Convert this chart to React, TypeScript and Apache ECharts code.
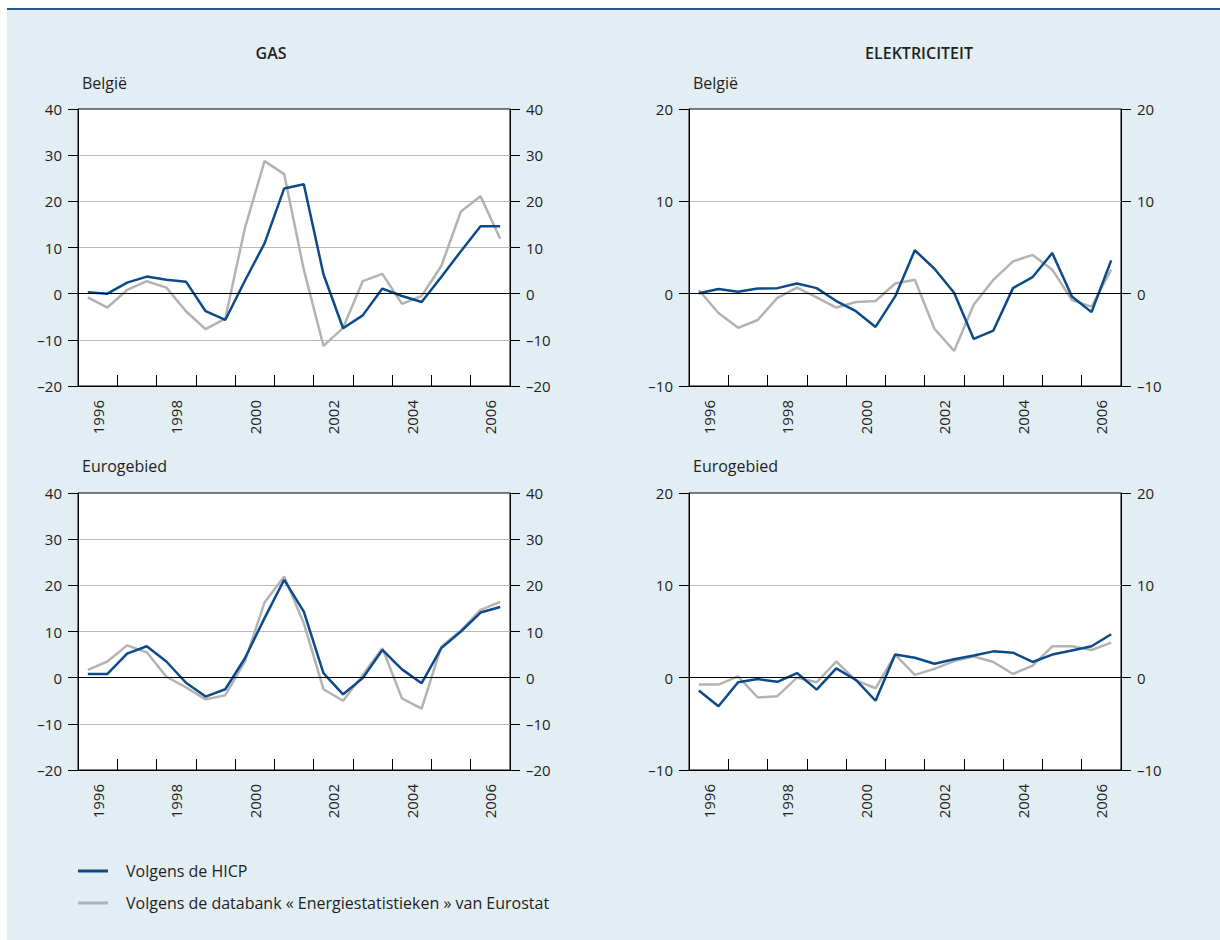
import React, { useEffect, useRef } from "react";
import * as echarts from "echarts";

const halfYears = [
  "1996 S1", "1996 S2", "1997 S1", "1997 S2", "1998 S1", "1998 S2",
  "1999 S1", "1999 S2", "2000 S1", "2000 S2", "2001 S1", "2001 S2",
  "2002 S1", "2002 S2", "2003 S1", "2003 S2", "2004 S1", "2004 S2",
  "2005 S1", "2005 S2", "2006 S1", "2006 S2",
];
const years = ["1996", "1997", "1998", "1999", "2000", "2001", "2002", "2003", "2004", "2005", "2006"];

const gasBelgiumHicp = [0.3, 0.0, 2.4, 3.7, 3.0, 2.6, -3.8, -5.7, 2.8, 10.9, 22.8, 23.7, 4.2, -7.5, -4.7, 1.1, -0.5, -1.8, 3.6, 9.2, 14.6, 14.6];
const gasBelgiumEurostat = [-0.8, -3.0, 0.8, 2.7, 1.3, -3.8, -7.7, -5.4, 14.2, 28.7, 25.9, 5.2, -11.3, -7.4, 2.7, 4.3, -2.2, -0.5, 6.0, 17.8, 21.1, 11.9];

const elecBelgiumHicp = [0.05, 0.5, 0.2, 0.55, 0.6, 1.1, 0.6, -0.8, -1.9, -3.6, -0.3, 4.7, 2.7, 0.1, -4.9, -4.0, 0.6, 1.8, 4.4, -0.3, -2.0, 3.6];
const elecBelgiumEurostat = [0.4, -2.1, -3.7, -2.85, -0.45, 0.65, -0.4, -1.5, -0.9, -0.8, 1.1, 1.5, -3.8, -6.2, -1.2, 1.5, 3.5, 4.2, 2.6, -0.7, -1.4, 2.6];

const gasEuroHicp = [0.8, 0.8, 5.2, 6.8, 3.5, -1.1, -4.1, -2.5, 4.2, 12.9, 21.2, 14.3, 1.0, -3.6, -0.1, 6.0, 1.8, -1.2, 6.4, 10.0, 14.1, 15.3];
const gasEuroEurostat = [1.7, 3.5, 7.0, 5.5, 0.2, -2.1, -4.7, -3.8, 3.5, 16.3, 21.9, 11.8, -2.5, -5.0, 0.6, 6.4, -4.5, -6.7, 6.7, 10.2, 14.7, 16.4];

const elecEuroHicp = [-1.4, -3.1, -0.5, -0.15, -0.45, 0.5, -1.3, 1.0, -0.25, -2.5, 2.5, 2.15, 1.5, 2.0, 2.4, 2.85, 2.7, 1.7, 2.5, 2.95, 3.4, 4.7];
const elecEuroEurostat = [-0.75, -0.75, 0.15, -2.15, -2.0, 0.0, -0.5, 1.75, -0.3, -1.15, 2.5, 0.3, 0.95, 1.8, 2.3, 1.7, 0.4, 1.3, 3.4, 3.4, 3.0, 3.8];

const gasTicks = { min: -20, max: 40, interval: 10 };
const elecTicks = { min: -10, max: 20, interval: 10 };

const hicpName = "Volgens de HICP";
const eurostatName = "Volgens de databank « Energiestatistieken » van Eurostat";

const FONT = "'Open Sans', 'Noto Sans', sans-serif";
const TEXT = "#231f20";
const BLUE = "#0b4a8b";
const GRAY = "#b3b3b3";

const panels = [
  { left: 78, top: 109, ticks: gasTicks, hicp: gasBelgiumHicp, euro: gasBelgiumEurostat },
  { left: 689, top: 109, ticks: elecTicks, hicp: elecBelgiumHicp, euro: elecBelgiumEurostat },
  { left: 78, top: 493, ticks: gasTicks, hicp: gasEuroHicp, euro: gasEuroEurostat },
  { left: 689, top: 493, ticks: elecTicks, hicp: elecEuroHicp, euro: elecEuroEurostat },
];

const fmt = (v: number) => (v < 0 ? "\u2013" + Math.abs(v) : String(v));

export default function App() {
  const ref = useRef<HTMLDivElement>(null);
  useEffect(() => {
    if (!ref.current) return;
    const chart = echarts.init(ref.current, undefined, { renderer: "svg" });
    const grid: any[] = [];
    const xAxis: any[] = [];
    const yAxis: any[] = [];
    const series: any[] = [];
    panels.forEach((p, i) => {
      grid.push({
        left: p.left, top: p.top, width: 432, height: 277,
        show: true, backgroundColor: "#ffffff", borderColor: "#000", borderWidth: 1,
        containLabel: false,
      });
      xAxis.push({
        type: "category", gridIndex: i, data: halfYears, boundaryGap: true, show: false,
        axisLine: { onZero: false },
      });
      xAxis.push({
        type: "category", gridIndex: i, data: years, boundaryGap: true, position: "bottom",
        axisLine: { show: true, onZero: false, lineStyle: { color: "#000", width: 1 } },
        axisTick: { show: true, inside: true, length: 11, interval: 0, lineStyle: { color: "#000", width: 1 } },
        axisLabel: { interval: 1, rotate: 90, margin: 14, fontSize: 15, color: TEXT, fontFamily: FONT },
        splitLine: { show: false },
      });
      const yBase = {
        type: "value", gridIndex: i, min: p.ticks.min, max: p.ticks.max, interval: p.ticks.interval,
        axisLine: { show: true, onZero: false, lineStyle: { color: "#000", width: 1 } },
        axisTick: { show: true, inside: false, length: 10, lineStyle: { color: "#000", width: 1 } },
        axisLabel: { margin: 16, fontSize: 15, color: TEXT, fontFamily: FONT, formatter: fmt },
      };
      yAxis.push({
        ...yBase, position: "left",
        splitLine: { show: true, showMinLine: false, showMaxLine: false, lineStyle: { color: "#b9b9b9", width: 1 } },
      });
      yAxis.push({ ...yBase, position: "right", splitLine: { show: false } });
      series.push({
        name: eurostatName, type: "line", xAxisIndex: 2 * i, yAxisIndex: 2 * i, data: p.euro,
        showSymbol: false, symbol: "none", z: 3,
        lineStyle: { color: GRAY, width: 2.5 }, itemStyle: { color: GRAY },
        markLine: {
          silent: true, symbol: "none", label: { show: false },
          lineStyle: { color: "#000", width: 1, type: "solid" },
          data: [{ yAxis: 0 }],
        },
      });
      series.push({
        name: hicpName, type: "line", xAxisIndex: 2 * i, yAxisIndex: 2 * i, data: p.hicp,
        showSymbol: false, symbol: "none", z: 4,
        lineStyle: { color: BLUE, width: 2.5 }, itemStyle: { color: BLUE },
      });
    });

    const titleFont = `600 16px ${FONT}`;
    const subFont = `16px ${FONT}`;
    chart.setOption({
      animation: false,
      textStyle: { fontFamily: FONT },
      grid, xAxis, yAxis, series,
      legend: {
        show: true, orient: "vertical", left: 78, top: 862, padding: 0,
        itemWidth: 30, itemHeight: 3, itemGap: 14, icon: "rect",
        data: [hicpName, eurostatName],
        textStyle: { fontSize: 16, color: TEXT, fontFamily: FONT, lineHeight: 18, padding: [0, 0, 0, 13] },
        selectedMode: false,
      },
      graphic: [
        { type: "rect", z: -10, silent: true, shape: { x: 7, y: 10, width: 1213, height: 930 }, style: { fill: "#e2edf4" } },
        { type: "rect", z: -9, silent: true, shape: { x: 7, y: 8, width: 1213, height: 2 }, style: { fill: "#2a5a8c" } },
        { type: "text", x: 271, y: 45, style: { text: "GAS", font: titleFont, fill: TEXT, textAlign: "center", textVerticalAlign: "top" } },
        { type: "text", x: 919, y: 45, style: { text: "ELEKTRICITEIT", font: titleFont, fill: TEXT, textAlign: "center", textVerticalAlign: "top" } },
        { type: "text", x: 82, y: 75, style: { text: "België", font: subFont, fill: TEXT, textAlign: "left", textVerticalAlign: "top" } },
        { type: "text", x: 693, y: 75, style: { text: "België", font: subFont, fill: TEXT, textAlign: "left", textVerticalAlign: "top" } },
        { type: "text", x: 82, y: 458, style: { text: "Eurogebied", font: subFont, fill: TEXT, textAlign: "left", textVerticalAlign: "top" } },
        { type: "text", x: 693, y: 458, style: { text: "Eurogebied", font: subFont, fill: TEXT, textAlign: "left", textVerticalAlign: "top" } },
      ],
    });
    return () => chart.dispose();
  }, []);
  return (
    <div style={{ position: "absolute", left: 0, top: 0, width: 1220, height: 940, background: "#fff" }}>
      <div ref={ref} style={{ width: 1220, height: 940 }} />
    </div>
  );
}
